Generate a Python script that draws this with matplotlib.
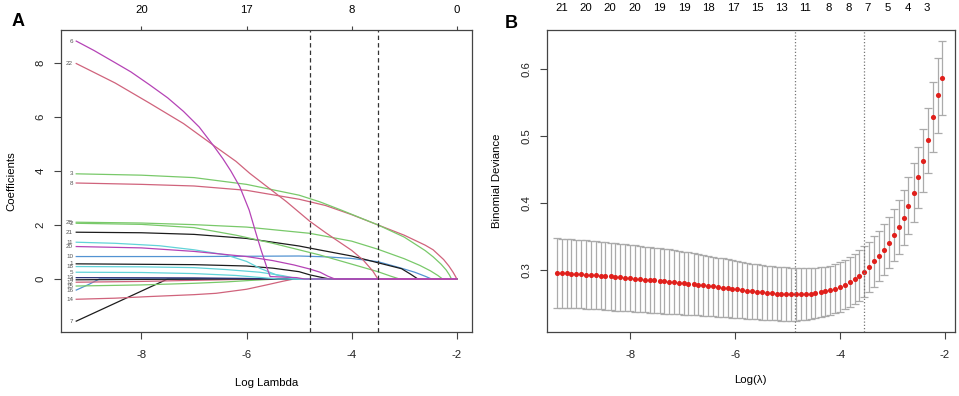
import matplotlib
matplotlib.use("Agg")
import matplotlib.pyplot as plt

plt.rcParams['font.family'] = ['Liberation Sans', 'DejaVu Sans']
plt.rcParams['axes.unicode_minus'] = False

# ---- panel A: coefficient paths (log lambda, coefficient)
coef_6 = [(-9.24, 8.80), (-8.9, 8.45), (-8.5, 8.00), (-8.2, 7.66), (-7.85, 7.19), (-7.5, 6.70),
          (-7.2, 6.20), (-6.9, 5.62), (-6.64, 4.96), (-6.45, 4.45), (-6.3, 4.00), (-6.13, 3.42),
          (-5.95, 2.55), (-5.82, 1.69), (-5.72, 1.05), (-5.66, 0.70), (-5.6, 0.35), (-5.55, 0.09),
          (-5.05, 0.05), (-4.9, 0.0), (-2.0, 0.0)]
coef_22 = [(-9.24, 7.97), (-8.9, 7.64), (-8.5, 7.25), (-7.85, 6.51), (-7.2, 5.75), (-6.64, 4.96),
           (-6.2, 4.35), (-5.94, 3.91), (-5.6, 3.40), (-5.24, 2.86), (-4.8, 2.14), (-4.5, 1.72),
           (-4.29, 1.44), (-4.0, 1.06), (-3.78, 0.70), (-3.6, 0.30), (-3.5, 0.0), (-2.0, 0.0)]
coef_3 = [(-9.24, 3.89), (-8.0, 3.84), (-7.0, 3.75), (-6.0, 3.50), (-5.0, 3.10), (-4.6, 2.85),
          (-4.2, 2.55), (-3.5, 2.00), (-3.0, 1.55), (-2.6, 1.05), (-2.45, 0.82), (-2.3, 0.55),
          (-2.2, 0.33), (-2.14, 0.15), (-2.1, 0.0), (-2.0, 0.0)]
coef_8 = [(-9.24, 3.55), (-8.0, 3.50), (-7.0, 3.44), (-6.0, 3.28), (-5.0, 2.95), (-4.5, 2.72),
          (-4.0, 2.38), (-3.5, 2.00), (-3.0, 1.62), (-2.6, 1.25), (-2.45, 1.08), (-2.35, 0.90),
          (-2.25, 0.72), (-2.15, 0.48), (-2.07, 0.25), (-2.02, 0.08), (-2.0, 0.0)]
coef_28 = [(-9.24, 2.10), (-8.0, 2.07), (-7.0, 2.01), (-6.0, 1.92), (-4.8, 1.69), (-4.0, 1.40),
           (-3.5, 1.10), (-3.0, 0.75), (-2.7, 0.50), (-2.5, 0.30), (-2.36, 0.13), (-2.27, 0.0),
           (-2.0, 0.0)]
coef_2 = [(-9.24, 2.06), (-8.0, 2.02), (-7.0, 1.90), (-6.2, 1.62), (-5.5, 1.32), (-4.61, 0.89),
          (-4.0, 0.55), (-3.5, 0.27), (-3.25, 0.10), (-3.09, 0.0), (-2.0, 0.0)]
coef_21 = [(-9.24, 1.73), (-8.0, 1.71), (-7.0, 1.65), (-6.0, 1.50), (-5.0, 1.22), (-4.6, 1.07),
           (-4.0, 0.85), (-3.5, 0.60), (-3.05, 0.38), (-2.88, 0.18), (-2.74, 0.0), (-2.0, 0.0)]
coef_11 = [(-9.24, 1.36), (-8.5, 1.32), (-7.66, 1.23), (-7.0, 1.08), (-6.39, 0.89), (-6.0, 0.65),
           (-5.75, 0.40), (-5.43, 0.15), (-5.1, 0.0), (-2.0, 0.0)]
coef_20 = [(-9.24, 1.20), (-8.0, 1.15), (-7.0, 1.02), (-6.0, 0.83), (-5.5, 0.68), (-5.1, 0.52),
           (-4.8, 0.37), (-4.6, 0.25), (-4.45, 0.10), (-4.32, 0.0), (-2.0, 0.0)]
coef_10 = [(-9.24, 0.83), (-7.0, 0.83), (-5.0, 0.85), (-4.5, 0.82), (-4.0, 0.76), (-3.5, 0.64),
           (-3.09, 0.42), (-2.8, 0.25), (-2.6, 0.10), (-2.48, 0.0), (-2.0, 0.0)]
coef_1 = [(-9.24, 0.56), (-7.0, 0.53), (-6.0, 0.48), (-5.5, 0.40), (-5.0, 0.27), (-4.79, 0.15),
          (-4.6, 0.07), (-4.42, 0.0), (-2.0, 0.0)]
coef_18 = [(-9.24, 0.46), (-8.0, 0.45), (-7.0, 0.42), (-6.4, 0.35), (-5.75, 0.25), (-5.3, 0.12),
           (-5.0, 0.0), (-2.0, 0.0)]
coef_5 = [(-9.24, 0.25), (-8.0, 0.24), (-7.0, 0.20), (-6.2, 0.13), (-5.7, 0.05), (-5.4, 0.0),
          (-2.0, 0.0)]
coef_13 = [(-9.24, 0.05), (-7.0, 0.04), (-6.0, 0.02), (-5.3, 0.0), (-2.0, 0.0)]
coef_4 = [(-9.24, -0.03), (-7.5, -0.01), (-6.8, 0.0), (-2.0, 0.0)]
coef_12 = [(-9.24, -0.12), (-8.0, -0.09), (-7.0, -0.05), (-6.0, -0.01), (-5.5, 0.0), (-2.0, 0.0)]
coef_15 = [(-9.24, -0.26), (-8.0, -0.22), (-7.0, -0.16), (-6.4, -0.11), (-5.9, -0.05), (-5.4, 0.0),
           (-2.0, 0.0)]
coef_16 = [(-9.24, -0.41), (-9.0, -0.20), (-8.8, 0.0), (-2.0, 0.0)]
coef_14 = [(-9.24, -0.75), (-8.5, -0.71), (-7.85, -0.65), (-7.0, -0.58), (-6.58, -0.53), (-6.0, -0.38),
           (-5.62, -0.22), (-5.3, -0.08), (-5.1, 0.0), (-2.0, 0.0)]
coef_7 = [(-9.24, -1.56), (-7.5, 0.0), (-2.0, 0.0)]

paths = {'7': coef_7, '14': coef_14, '16': coef_16, '15': coef_15, '12': coef_12, '4': coef_4,
         '13': coef_13, '5': coef_5, '18': coef_18, '1': coef_1, '10': coef_10, '11': coef_11,
         '21': coef_21, '2': coef_2, '28': coef_28, '8': coef_8, '3': coef_3, '22': coef_22,
         '20': coef_20, '6': coef_6}

a_top_ticks = [-8, -6, -4, -2]
a_top_labels = ['20', '17', '8', '0']
a_vlines = [-4.79, -3.49]

# ---- panel B: cross-validation curve
log_lam = [-9.40, -9.30, -9.21, -9.12, -9.03, -8.93, -8.84, -8.75, -8.65, -8.56,
           -8.47, -8.37, -8.28, -8.19, -8.10, -8.00, -7.91, -7.82, -7.72, -7.63,
           -7.54, -7.44, -7.35, -7.26, -7.16, -7.07, -6.98, -6.89, -6.79, -6.70,
           -6.61, -6.51, -6.42, -6.33, -6.23, -6.14, -6.05, -5.96, -5.86, -5.77,
           -5.68, -5.58, -5.49, -5.40, -5.30, -5.21, -5.12, -5.03, -4.93, -4.84,
           -4.75, -4.65, -4.56, -4.47, -4.37, -4.28, -4.19, -4.09, -4.00, -3.91,
           -3.82, -3.72, -3.63, -3.54, -3.44, -3.35, -3.26, -3.16, -3.07, -2.98,
           -2.88, -2.79, -2.70, -2.60, -2.51, -2.42, -2.33, -2.23, -2.14, -2.05]
cvm = [0.2955, 0.2952, 0.2948, 0.2944, 0.2940, 0.2936, 0.2932, 0.2927, 0.2922, 0.2916,
       0.2910, 0.2904, 0.2897, 0.2890, 0.2884, 0.2878, 0.2871, 0.2865, 0.2858, 0.2852,
       0.2845, 0.2839, 0.2832, 0.2826, 0.2819, 0.2812, 0.2805, 0.2797, 0.2789, 0.2781,
       0.2772, 0.2763, 0.2754, 0.2745, 0.2736, 0.2727, 0.2718, 0.2709, 0.2700, 0.2691,
       0.2682, 0.2674, 0.2667, 0.2660, 0.2654, 0.2648, 0.2644, 0.2640, 0.2637, 0.2636,
       0.2637, 0.2640, 0.2646, 0.2654, 0.2665, 0.2680, 0.2700, 0.2720, 0.2746, 0.2780,
       0.2821, 0.2861, 0.2915, 0.2975, 0.3045, 0.3130, 0.3209, 0.3303, 0.3408, 0.3519,
       0.3643, 0.3782, 0.3961, 0.4155, 0.4386, 0.4634, 0.4939, 0.5283, 0.5610, 0.5870]
cvsd = [0.0517, 0.0516, 0.0515, 0.0514, 0.0512, 0.0511, 0.0510, 0.0509, 0.0507, 0.0506,
        0.0505, 0.0504, 0.0503, 0.0502, 0.0500, 0.0498, 0.0496, 0.0494, 0.0492, 0.0490,
        0.0488, 0.0486, 0.0484, 0.0482, 0.0478, 0.0474, 0.0470, 0.0466, 0.0462, 0.0458,
        0.0454, 0.0449, 0.0445, 0.0441, 0.0436, 0.0432, 0.0428, 0.0424, 0.0420, 0.0417,
        0.0414, 0.0411, 0.0408, 0.0406, 0.0404, 0.0402, 0.0400, 0.0399, 0.0397, 0.0394,
        0.0390, 0.0386, 0.0382, 0.0378, 0.0374, 0.0370, 0.0365, 0.0366, 0.0368, 0.0370,
        0.0372, 0.0375, 0.0377, 0.0378, 0.0379, 0.0380, 0.0380, 0.0379, 0.0382, 0.0389,
        0.0398, 0.0413, 0.0423, 0.0438, 0.0458, 0.0473, 0.0488, 0.0523, 0.0558, 0.0548]
b_top_pos = [-9.31, -8.84, -8.38, -7.92, -7.45, -6.97, -6.50, -6.04, -5.58, -5.12,
             -4.67, -4.21, -3.83, -3.47, -3.09, -2.70, -2.34]
b_top_labels = ['21', '20', '20', '20', '19', '19', '18', '17', '15', '13',
                '11', '8', '8', '7', '5', '4', '3']
lambda_min = -4.85
lambda_1se = -3.54

# ---- styling
black, rose, green, blue, cyan, mag, navy = ('#1c1c1c', '#d0637c', '#79c96a', '#5293d2',
                                             '#62d3d8', '#b543b6', '#2c3178')
colors = {'6': mag, '22': rose, '3': green, '8': rose, '28': green, '2': green, '21': black,
          '11': cyan, '20': mag, '10': blue, '1': black, '18': cyan, '5': cyan, '13': navy,
          '4': black, '12': rose, '15': green, '16': blue, '14': rose, '7': black}

W, H = 959, 396
fig = plt.figure(figsize=(W / 100, H / 100), dpi=100)
axA = fig.add_axes([61 / W, 1 - 331.7 / H, 411 / W, 301.7 / H])
axB = fig.add_axes([546.7 / W, 1 - 331.7 / H, 408.3 / W, 301.7 / H])

tick_fs = 8.2
spine_col = '#444444'

for ax in (axA, axB):
    for s in ax.spines.values():
        s.set_color(spine_col)
        s.set_linewidth(0.9)
    ax.tick_params(axis='both', length=5, width=0.8, color=spine_col, labelsize=tick_fs,
                   labelcolor='#222222', pad=6)
    ax.tick_params(axis='x', pad=8)

# panel A
for lab, pts in paths.items():
    xs = [p[0] for p in pts]
    ys = [p[1] for p in pts]
    axA.plot(xs, ys, color=colors[lab], lw=0.9, solid_joinstyle='round')
    axA.text(xs[0] - 0.06, ys[0], lab, fontsize=4.5, color='#555555', ha='right', va='center')

for v in a_vlines:
    axA.axvline(v, color='#333333', lw=0.9, linestyle=(0, (3.5, 2.5)))

axA.set_xlim(-9.53, -1.71)
axA.set_ylim(-1.95, 9.21)
axA.set_xticks([-8, -6, -4, -2])
axA.set_yticks([0, 2, 4, 6, 8])
axA.set_yticklabels(['0', '2', '4', '6', '8'], rotation=90, va='center')
axA.set_xlabel('Log Lambda', fontsize=tick_fs, labelpad=13)
axA.set_ylabel('Coefficients', fontsize=tick_fs, labelpad=14)
secA = axA.secondary_xaxis('top')
secA.set_xticks(a_top_ticks, labels=a_top_labels)
secA.tick_params(length=3, width=0.8, color=spine_col, labelsize=tick_fs, pad=7.5)
secA.spines['top'].set_visible(False)

# panel B
axB.errorbar(log_lam, cvm, yerr=cvsd, fmt='none', ecolor='#ababab', elinewidth=0.9,
             capsize=2.6, capthick=0.9)
axB.plot(log_lam, cvm, 'o', color='#e0201c', markersize=3.7, markeredgewidth=0)
for v in (lambda_min, lambda_1se):
    axB.axvline(v, color='#777777', lw=0.9, linestyle=(0, (1, 1.6)))

axB.set_xlim(-9.59, -1.81)
axB.set_ylim(0.2078, 0.6587)
axB.set_xticks([-8, -6, -4, -2])
axB.set_yticks([0.3, 0.4, 0.5, 0.6])
axB.set_yticklabels(['0.3', '0.4', '0.5', '0.6'], rotation=90, va='center')
axB.set_xlabel('Log(\u03bb)', fontsize=tick_fs, labelpad=11)
axB.set_ylabel('Binomial Deviance', fontsize=tick_fs, labelpad=14)
secB = axB.secondary_xaxis('top')
secB.set_xticks(b_top_pos, labels=b_top_labels)
secB.tick_params(length=0, labelsize=tick_fs, pad=12)
secB.spines['top'].set_visible(False)

fig.text(12 / W, 1 - 22 / H, 'A', fontsize=13, fontweight='bold', va='center', ha='left')
fig.text(505 / W, 1 - 24 / H, 'B', fontsize=13, fontweight='bold', va='center', ha='left')

fig.savefig('out.png', dpi=100)
